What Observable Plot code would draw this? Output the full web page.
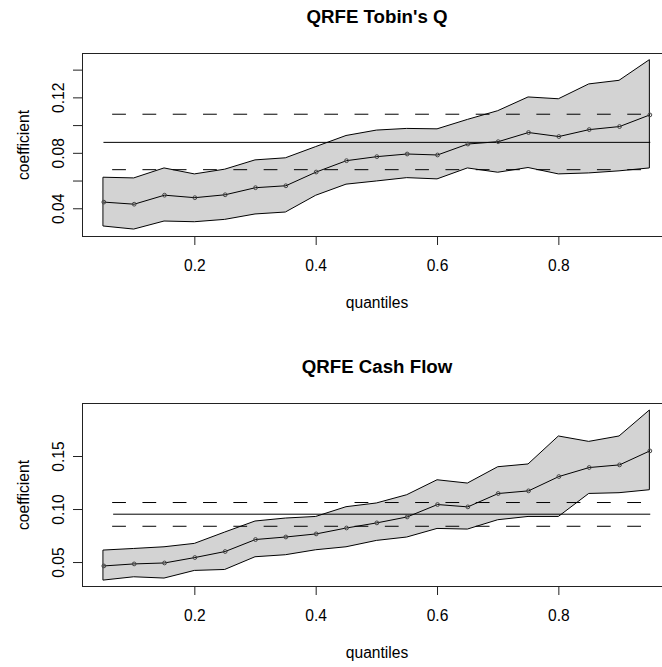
<!DOCTYPE html>
<html><head><meta charset="utf-8">
<script src="https://cdn.jsdelivr.net/npm/d3@7"></script>
<script src="https://cdn.jsdelivr.net/npm/@observablehq/plot@0.6"></script>
<style>
body{margin:0;background:#fff;overflow:hidden;width:662px;height:667px}
svg{display:block}
</style>
</head><body><div id="c"></div>
<script>
const quantiles = [0.05,0.10,0.15,0.20,0.25,0.30,0.35,0.40,0.45,0.50,0.55,0.60,0.65,0.70,0.75,0.80,0.85,0.90,0.95];

const tobinCoef  = [0.0448,0.0433,0.0498,0.0480,0.0501,0.0552,0.0566,0.0665,0.0747,0.0776,0.0795,0.0788,0.0867,0.0884,0.0950,0.0921,0.0971,0.0993,0.1077];
const tobinUpper = [0.0624,0.0619,0.0691,0.0648,0.0682,0.0749,0.0764,0.0845,0.0925,0.0964,0.0976,0.0973,0.1041,0.1104,0.1203,0.1190,0.1297,0.1323,0.1472];
const tobinLower = [0.0272,0.0250,0.0308,0.0303,0.0320,0.0359,0.0373,0.0494,0.0574,0.0597,0.0621,0.0612,0.0691,0.0660,0.0694,0.0648,0.0655,0.0670,0.0691];
const tobinOls = [0.0879, 0.1082, 0.0682]; // estimate, upper, lower
const tobinOlsStart = 0.05;
const tobinYTicks = [0.04,0.06,0.08,0.10,0.12,0.14];
const tobinYLabels = [0.04,0.08,0.12];

const cashCoef  = [0.0468,0.0487,0.0496,0.0547,0.0604,0.0717,0.0741,0.0770,0.0826,0.0874,0.0930,0.1047,0.1025,0.1151,0.1176,0.1311,0.1396,0.1421,0.1553];
const cashUpper = [0.0613,0.0628,0.0644,0.0676,0.0783,0.0887,0.0915,0.0930,0.1022,0.1057,0.1135,0.1276,0.1245,0.1399,0.1425,0.1689,0.1638,0.1689,0.1934];
const cashLower = [0.0330,0.0361,0.0349,0.0421,0.0430,0.0550,0.0569,0.0616,0.0644,0.0704,0.0736,0.0817,0.0811,0.0899,0.0930,0.0930,0.1147,0.1154,0.1182];
const cashOls = [0.0956, 0.1066, 0.0842];
const cashOlsStart = 0.066;
const cashYTicks = [0.05,0.10,0.15];
const cashYLabels = [0.05,0.10,0.15];

const xTicks = [0.2,0.4,0.6,0.8];
const titles = ["QRFE Tobin's Q", "QRFE Cash Flow"];
const xLabel = "quantiles";
const yLabel = "coefficient";

const FONT = "'Liberation Sans', Arial, Helvetica, sans-serif";
const FS = 15.6;

function panel({title, coef, upper, lower, ols, olsStart, yDomain, yTicks, yLabels, height, marginTop, marginBottom}) {
  const rows = quantiles.map((q, i) => ({q, c: coef[i], u: upper[i], l: lower[i]}));
  const q0 = quantiles[0], q1 = quantiles[quantiles.length - 1];
  const seg = (v, s = q0) => [{x: s, y: v}, {x: q1, y: v}];
  const xDom = [0.01483, 0.97083];
  return Plot.plot({
    width: 662, height, marginLeft: 82, marginRight: 0, marginTop, marginBottom,
    style: {fontFamily: FONT, fontSize: FS + "px", background: "white", color: "black", overflow: "visible"},
    x: {domain: xDom},
    y: {domain: yDomain},
    marks: [
      Plot.areaY(rows, {x: "q", y1: "l", y2: "u", fill: "#d3d3d3", stroke: "black", strokeWidth: 1}),
      Plot.line(seg(ols[0], olsStart), {x: "x", y: "y", stroke: "black", strokeWidth: 1}),
      Plot.line(seg(ols[1]), {x: "x", y: "y", stroke: "black", strokeWidth: 1, strokeDasharray: "13,17.3", strokeDashoffset: 21.6}),
      Plot.line(seg(ols[2]), {x: "x", y: "y", stroke: "black", strokeWidth: 1, strokeDasharray: "13,17.3", strokeDashoffset: 21.6}),
      Plot.line(rows, {x: "q", y: "c", stroke: "black", strokeWidth: 1}),
      Plot.dot(rows, {x: "q", y: "c", r: 1.9, stroke: "#444", strokeWidth: 1, fill: "none"}),
      // box (left, top, bottom edges)
      Plot.ruleY([yDomain[0], yDomain[1]], {stroke: "#222", strokeWidth: 1}),
      Plot.ruleX([xDom[0]], {stroke: "#222", strokeWidth: 1}),
      // axes
      Plot.axisX({ticks: xTicks, tickSize: 9, tickPadding: 14.5, fontSize: FS, tickFormat: d => d.toFixed(1), label: null, stroke: "#222"}),
      Plot.axisY({ticks: yTicks, tickSize: 9, tickFormat: () => "", label: null, stroke: "#222"}),
      Plot.text(yLabels, {y: d => d, text: d => d.toFixed(2), frameAnchor: "left", dx: -18.7, rotate: -90, lineAnchor: "bottom", textAnchor: "middle", fontSize: FS, fill: "black"}),
      Plot.text([xLabel], {frameAnchor: "bottom", dx: 4.5, dy: 71, lineAnchor: "bottom", fontSize: FS, fill: "black"}),
      Plot.text([yLabel], {frameAnchor: "left", dx: -53.5, rotate: -90, lineAnchor: "bottom", textAnchor: "middle", fontSize: FS, fill: "black"}),
      Plot.text([title], {frameAnchor: "top", dx: 4.5, dy: -30.3, lineAnchor: "bottom", fontSize: 18.7, fontWeight: "bold", fill: "black"})
    ]
  });
}

const c = document.getElementById("c");
c.append(panel({title: titles[0], coef: tobinCoef, upper: tobinUpper, lower: tobinLower, ols: tobinOls, olsStart: tobinOlsStart,
  yDomain: [0.020, 0.152], yTicks: tobinYTicks, yLabels: tobinYLabels, height: 333, marginTop: 53, marginBottom: 97}));
c.append(panel({title: titles[1], coef: cashCoef, upper: cashUpper, lower: cashLower, ols: cashOls, olsStart: cashOlsStart,
  yDomain: [0.0274, 0.2], yTicks: cashYTicks, yLabels: cashYLabels, height: 334, marginTop: 70, marginBottom: 81}));
</script>
</body></html>
